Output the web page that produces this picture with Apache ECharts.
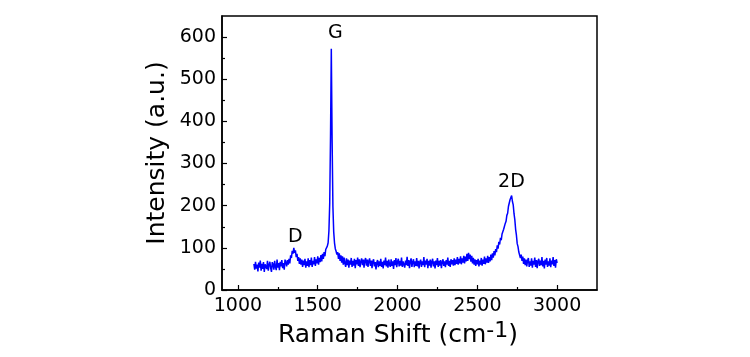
<!DOCTYPE html>
<html>
<head>
<meta charset="utf-8">
<script src="https://cdn.jsdelivr.net/npm/echarts@6/dist/echarts.min.js"></script>
<style>
html,body{margin:0;padding:0;background:#fff;}
#chart{width:750px;height:357px;}
</style>
</head>
<body>
<div id="chart"></div>
<script>
// Raman spectrum sampling grid (cm^-1)
const shiftStart = 1100;
const shiftStep = 5;

// Intensity readings (a.u.), consecutive segments of the spectrum
const intensity1100to1300 = [62,48,67,51,60,44,65,53,70,46, 62,50,66,43,61,64,50,69,46,60, 67,52,43,66,61,48,69,55,47,72, 53,64,47,67,56,71,52,64,48,72, 66];
const intensityDBand = [56,71,60,74,63,82,76,93,86,100, 88,94,78,86,69,78,62,75,60,72];
const intensity1405to1560 = [55,70,59,74,53,68,57,75,54,71, 59,77,55,69,61,78,57,73,63,80, 60,76,66,83,68,86,74,90,80,96, 92,104];
const intensityGBand = [112,140,205,362,572,355,198,138,112,98,92,84];
const intensity1625to1800 = [90,74,87,69,82,65,80,60,77,63, 55,75,59,72,53,70,60,76,55,69, 58,74,52,71,61,77,57,73,54,68, 75,59,72,53,70,76];
const intensity1805to2000 = [58,72,55,69,75,57,70,52,68,73, 56,66,49,65,71,54,68,57,74,55, 67,51,70,59,77,56,69,53,72,60, 55,73,57,68,50,71,59,76,54,67];
const intensity2005to2200 = [74,56,69,58,77,55,68,72,53,70, 59,79,57,71,52,68,75,55,66,73, 54,68,57,76,56,69,51,67,72,55, 68,59,78,54,70,60,74,52,69,58];
const intensity2205to2400 = [72,53,67,74,56,68,51,70,59,76, 55,69,58,71,52,66,73,57,68,54, 71,60,77,57,69,55,73,61,71,58, 75,59,72,62,78,60,74,63,80,61];
const intensity2405to2600 = [75,65,81,63,79,68,86,69,88,73, 84,67,81,63,76,60,73,57,71,61, 74,56,70,60,76,58,72,62,79,61, 75,65,81,64,78,68,84,71,87,77];
const intensity2DBand = [92,82,97,90,106,98,114,108,124,118, 133,131,144,146,158,163,177,182,198,202, 214,218,224,210,202,181,167,144,130,110, 103,90,88,76,84,69,79,62,75,59];
const intensity2805to3000 = [72,56,70,76,55,68,58,75,53,69, 60,77,55,71,52,68,74,57,70,59, 78,56,69,51,72,60,76,55,68,58, 75,54,70,61,78,57,71,53,73,64];

// Tick labels
const xTickLabels = [1000, 1500, 2000, 2500, 3000];
const xMinorTicks = [1250, 1750, 2250, 2750];
const yTickLabels = [0, 100, 200, 300, 400, 500, 600];
const yMinorTicks = [50, 150, 250, 350, 450, 550];

// Peak annotations
const peakNames = ['D', 'G', '2D'];
const peakNameShift = [1360, 1610, 2714];
const peakNameIntensity = [126, 610, 257];

const intensity = [].concat(
  intensity1100to1300, intensityDBand, intensity1405to1560, intensityGBand,
  intensity1625to1800, intensity1805to2000, intensity2005to2200, intensity2205to2400,
  intensity2405to2600, intensity2DBand, intensity2805to3000
);
const spectrum = intensity.map((v, i) => [shiftStart + i * shiftStep, v]);
const peakData = peakNames.map((n, i) => [peakNameShift[i], peakNameIntensity[i], n]);

const FONT = 'DejaVu Sans';
const X_MIN = 900, X_MAX = 3250, Y_MIN = 0, Y_MAX = 650;
const plain = v => String(v);

const chart = echarts.init(document.getElementById('chart'), null, {renderer: 'canvas'});
chart.setOption({
  animation: false,
  backgroundColor: '#ffffff',
  grid: {
    left: 222, right: 153, top: 16, bottom: 67,
    show: true, borderColor: '#000', borderWidth: 1.5, backgroundColor: 'transparent',
    outerBoundsMode: 'none'
  },
  xAxis: [
    {
      type: 'value', position: 'bottom', min: X_MIN, max: X_MAX,
      name: 'Raman Shift (cm{sup|-1})',
      nameLocation: 'middle', nameGap: 30, nameMoveOverlap: false,
      nameTextStyle: {
        fontFamily: FONT, fontSize: 25, color: '#000', lineHeight: 31,
        padding: [0, 23, 0, 0],
        rich: { sup: { fontFamily: FONT, fontSize: 22, lineHeight: 22, verticalAlign: 'top', color: '#000' } }
      },
      axisLine: { show: true, onZero: false, lineStyle: { color: '#000', width: 1.5 } },
      axisTick: { show: true, inside: true, length: 5, lineStyle: { color: '#000', width: 1.2 }, customValues: xTickLabels },
      axisLabel: { fontFamily: FONT, fontSize: 19, color: '#000', margin: 7, customValues: xTickLabels, formatter: plain },
      splitLine: { show: false }
    },
    {
      type: 'value', position: 'bottom', min: X_MIN, max: X_MAX,
      axisLine: { show: false },
      axisTick: { show: true, inside: true, length: 3, lineStyle: { color: '#000', width: 1.2 }, customValues: xMinorTicks },
      axisLabel: { show: false },
      splitLine: { show: false }
    }
  ],
  yAxis: [
    {
      type: 'value', position: 'left', min: Y_MIN, max: Y_MAX,
      name: 'Intensity (a.u.)',
      nameLocation: 'middle', nameGap: 52, nameRotate: 90, nameMoveOverlap: false,
      nameTextStyle: { fontFamily: FONT, fontSize: 25, color: '#000' },
      axisLine: { show: true, onZero: false, lineStyle: { color: '#000', width: 1.5 } },
      axisTick: { show: true, inside: true, length: 5, lineStyle: { color: '#000', width: 1.2 }, customValues: yTickLabels },
      axisLabel: { fontFamily: FONT, fontSize: 19, color: '#000', margin: 6, customValues: yTickLabels, formatter: plain },
      splitLine: { show: false }
    },
    {
      type: 'value', position: 'left', min: Y_MIN, max: Y_MAX,
      axisLine: { show: false },
      axisTick: { show: true, inside: true, length: 3, lineStyle: { color: '#000', width: 1.2 }, customValues: yMinorTicks },
      axisLabel: { show: false },
      splitLine: { show: false }
    }
  ],
  series: [
    {
      type: 'line', xAxisIndex: 0, yAxisIndex: 0,
      data: spectrum, showSymbol: false, symbol: 'none',
      lineStyle: { color: '#0000ff', width: 1.5 },
      itemStyle: { color: '#0000ff' },
      emphasis: { disabled: true }
    },
    {
      type: 'scatter', xAxisIndex: 0, yAxisIndex: 0,
      data: peakData, symbolSize: 0,
      label: {
        show: true, position: 'inside', formatter: p => p.value[2],
        fontFamily: FONT, fontSize: 19, color: '#000000', textBorderWidth: 0, opacity: 1
      },
      emphasis: { disabled: true }
    }
  ]
});
</script>
</body>
</html>
